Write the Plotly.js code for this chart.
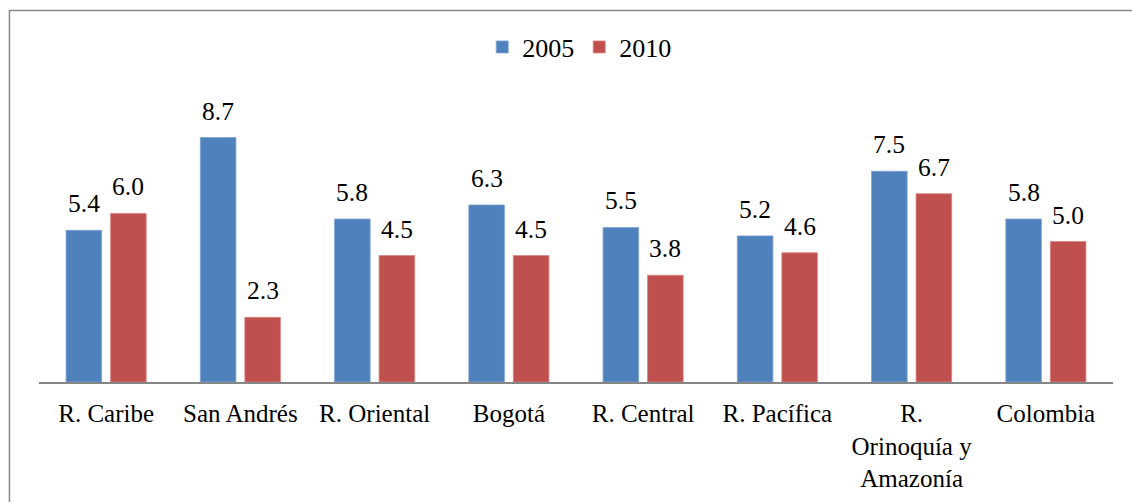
<!DOCTYPE html>
<html>
<head>
<meta charset="utf-8">
<script src="https://cdn.plot.ly/plotly-3.0.1.min.js"></script>
<style>
html,body{margin:0;padding:0;background:#fff;}
#chart{width:1132px;height:502px;}
</style>
</head>
<body>
<div id="chart"></div>
<script>
const categories = ['R. Caribe', 'San Andrés', 'R. Oriental', 'Bogotá', 'R. Central', 'R. Pacífica', 'R.<br>Orinoquía y<br>Amazonía', 'Colombia'];
const values2005 = [5.4, 8.7, 5.8, 6.3, 5.5, 5.2, 7.5, 5.8];
const values2010 = [6.0, 2.3, 4.5, 4.5, 3.8, 4.6, 6.7, 5.0];
const seriesNames = ['2005', '2010'];

const font = 'Liberation Serif';

const traces = [
  {
    type: 'bar', name: seriesNames[0], x: categories, y: values2005,
    marker: {color: '#4F81BD', line: {color: '#7FA3D2', width: 0.8}},
    hoverinfo: 'skip'
  },
  {
    type: 'bar', name: seriesNames[1], x: categories, y: values2010,
    marker: {color: '#C0504D', line: {color: '#D98583', width: 0.8}},
    hoverinfo: 'skip'
  }
];

const offsets = [-22.25, 22.25];
const annotations = [];
[values2005, values2010].forEach((vals, s) => {
  vals.forEach((v, i) => {
    annotations.push({
      x: categories[i], y: v, xref: 'x', yref: 'y',
      text: v.toFixed(1), showarrow: false,
      xshift: offsets[s], yshift: 10, yanchor: 'bottom', xanchor: 'center',
      font: {family: font, size: 25.5, color: '#000'}
    });
  });
});

const layout = {
  width: 1132, height: 502,
  margin: {l: 39, r: 19, t: 101, b: 120},
  paper_bgcolor: '#fff', plot_bgcolor: '#fff',
  font: {family: font, size: 25, color: '#000'},
  barmode: 'group', bargap: 0.337, bargroupgap: 0.2,
  showlegend: true,
  legend: {orientation: 'h', x: 0.503, xanchor: 'center', y: 1.192, yanchor: 'middle',
           font: {family: font, size: 26, color: '#000'}, itemwidth: 30, traceorder: 'normal'},
  xaxis: {showline: true, linecolor: '#868686', linewidth: 2, ticks: '', showgrid: false,
          zeroline: false, ticklabelstandoff: 8,
          tickfont: {family: font, size: 25, color: '#000'}, fixedrange: true},
  yaxis: {range: [0, 10], visible: false, showgrid: false, zeroline: false, fixedrange: true},
  annotations: annotations,
  shapes: [{type: 'rect', xref: 'paper', yref: 'paper', x0: -0.0275, x1: 1.3, y0: -1, y1: 1.322,
            line: {color: '#888888', width: 1.5}, fillcolor: 'rgba(0,0,0,0)', layer: 'below'}]
};

Plotly.newPlot('chart', traces, layout, {displayModeBar: false, staticPlot: true});
</script>
</body>
</html>
